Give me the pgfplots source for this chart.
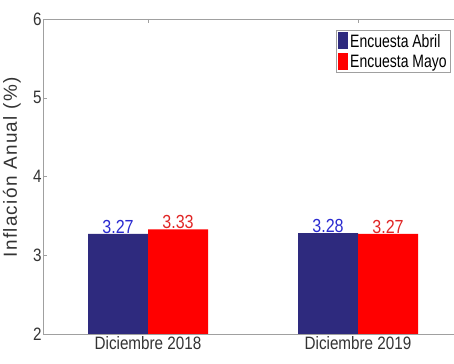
\documentclass[border=0pt]{standalone}
\usepackage{pgfplots}
\pgfplotsset{compat=1.18}
\usepackage{fontspec}
\setmainfont{Liberation Sans}[FakeStretch=0.85]
\newfontfamily\widefont{Liberation Sans}[LetterSpace=7]
\newfontfamily\narrowfont{Liberation Sans}[FakeStretch=0.78]
\definecolor{barblue}{HTML}{2E2A7E}
\definecolor{barred}{HTML}{FF0000}
\definecolor{lblblue}{HTML}{2A2AD0}
\definecolor{lblred}{HTML}{E02525}
\definecolor{axgrey}{HTML}{A0A0A0}
\definecolor{txtgrey}{HTML}{333333}
\begin{document}
\begin{tikzpicture}
\useasboundingbox (-43bp,-30bp) rectangle (411bp,334bp);
\begin{axis}[
  at={(0,0)}, anchor=south west,
  scale only axis,
  width=420bp, height=315bp,
  xmin=0.5, xmax=2.5,
  ymin=2, ymax=6,
  ytick={2,3,4,5,6},
  yticklabels={2,3,4,5,6},
  xtick={1,2},
  xticklabels={Diciembre 2018, Diciembre 2019},
  ybar=0pt,
  bar width=60bp,
  tick align=inside,
  major tick length=4bp,
  axis line style={axgrey},
  every tick/.style={axgrey},
  tick label style={font=\fontsize{18}{20}\selectfont, text=txtgrey},
  xticklabel style={yshift=1bp},
  yticklabel style={xshift=2bp},
  ylabel={\widefont\fontsize{19}{21}\selectfont Inflaci\'on Anual (\%)},
  ylabel style={at={(axis description cs:-0.074,0.529)}, anchor=center, text=txtgrey},
  legend style={at={(0.971,0.965)}, anchor=north east, font=\narrowfont\fontsize{18}{20}\selectfont,
    draw=axgrey, inner sep=2bp, row sep=2bp},
  legend cell align=left,
  legend image code/.code={\fill[#1] (6bp,-8bp) rectangle (16bp,9bp);},
  nodes near coords,
  nodes near coords style={font=\fontsize{19}{21}\selectfont, yshift=-3bp,
    /pgf/number format/fixed, /pgf/number format/precision=2,
    /pgf/number format/fixed zerofill, /pgf/number format/assume math mode=true},
]
\addplot[fill=barblue, draw=none, nodes near coords style={text=lblblue}] coordinates {(1,3.27) (2,3.28)};
\addplot[fill=barred, draw=none, nodes near coords style={text=lblred}] coordinates {(1,3.33) (2,3.27)};
\legend{Encuesta Abril, Encuesta Mayo}
\end{axis}
\end{tikzpicture}
\end{document}
